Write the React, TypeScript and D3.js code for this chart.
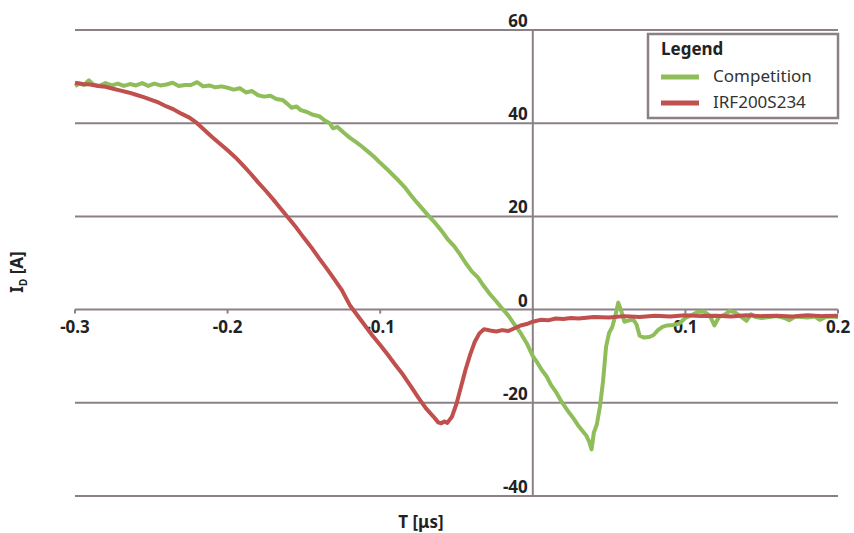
import React from 'react';
import * as d3 from 'd3';

// time in µs, current in A
const irfT = [-0.3, -0.295, -0.29, -0.285, -0.28, -0.275, -0.27, -0.265, -0.26, -0.255, -0.25, -0.245, -0.24, -0.235, -0.23, -0.225, -0.22, -0.215, -0.21, -0.205, -0.2, -0.195, -0.19, -0.185, -0.18, -0.175, -0.17, -0.165, -0.16, -0.155, -0.15, -0.145, -0.14, -0.135, -0.13, -0.125, -0.12, -0.115, -0.11, -0.105, -0.1, -0.095, -0.09, -0.085, -0.08, -0.075, -0.07, -0.065, -0.062, -0.06, -0.058, -0.056, -0.053, -0.05, -0.047, -0.044, -0.041, -0.038, -0.035, -0.032, -0.028, -0.024, -0.02, -0.016, -0.012, -0.008, -0.004, 0, 0.005, 0.01, 0.015, 0.02, 0.025, 0.03, 0.04, 0.05, 0.06, 0.07, 0.08, 0.09, 0.1, 0.11, 0.12, 0.13, 0.14, 0.15, 0.16, 0.17, 0.18, 0.19, 0.2];
const irfI = [48.7, 48.4, 48.3, 48.0, 47.8, 47.4, 47.0, 46.6, 46.1, 45.6, 45.0, 44.4, 43.6, 42.9, 42.0, 41.2, 40.0, 38.5, 37.0, 35.6, 34.2, 32.7, 31.0, 29.2, 27.3, 25.5, 23.6, 21.6, 19.6, 17.6, 15.4, 13.3, 11.0, 8.8, 6.5, 4.1, 1.0, -1.2, -3.4, -5.6, -7.6, -9.7, -11.9, -14.0, -16.4, -18.9, -21.2, -23.0, -24.2, -24.4, -24.0, -24.3, -23.0, -20.2, -16.5, -12.8, -9.6, -6.9, -5.1, -4.2, -4.5, -4.7, -4.4, -4.6, -4.0, -3.4, -3.1, -2.6, -2.2, -2.3, -1.9, -2.0, -1.8, -1.9, -1.6, -1.7, -1.4, -1.6, -1.3, -1.5, -1.2, -1.4, -1.3, -1.5, -1.2, -1.4, -1.3, -1.5, -1.2, -1.4, -1.3];

const compT = [-0.3, -0.297, -0.294, -0.291, -0.288, -0.284, -0.28, -0.276, -0.272, -0.268, -0.264, -0.26, -0.256, -0.252, -0.248, -0.244, -0.24, -0.236, -0.232, -0.228, -0.224, -0.22, -0.216, -0.212, -0.208, -0.204, -0.2, -0.196, -0.192, -0.188, -0.184, -0.18, -0.176, -0.172, -0.168, -0.164, -0.161, -0.158, -0.155, -0.152, -0.148, -0.144, -0.14, -0.136, -0.133, -0.131, -0.128, -0.124, -0.12, -0.116, -0.112, -0.108, -0.104, -0.1, -0.096, -0.092, -0.088, -0.084, -0.08, -0.076, -0.072, -0.068, -0.064, -0.06, -0.056, -0.052, -0.048, -0.044, -0.04, -0.036, -0.032, -0.028, -0.024, -0.02, -0.016, -0.012, -0.008, -0.004, 0, 0.003, 0.006, 0.009, 0.012, 0.015, 0.018, 0.021, 0.024, 0.027, 0.03, 0.033, 0.035, 0.037, 0.0385, 0.04, 0.042, 0.044, 0.046, 0.048, 0.05, 0.052, 0.054, 0.056, 0.058, 0.06, 0.063, 0.066, 0.068, 0.07, 0.073, 0.076, 0.079, 0.082, 0.085, 0.088, 0.092, 0.096, 0.1, 0.104, 0.108, 0.112, 0.116, 0.119, 0.122, 0.126, 0.129, 0.132, 0.136, 0.14, 0.143, 0.146, 0.15, 0.155, 0.16, 0.165, 0.168, 0.172, 0.176, 0.18, 0.185, 0.188, 0.192, 0.196, 0.2];
const compI = [48.0, 48.5, 48.2, 49.2, 48.3, 48.0, 48.6, 48.1, 48.5, 48.0, 48.4, 48.1, 48.6, 48.0, 48.5, 48.1, 48.3, 48.7, 48.0, 48.2, 48.2, 48.8, 47.9, 48.1, 47.7, 47.9, 47.6, 47.2, 47.5, 46.6, 46.9, 46.0, 45.7, 45.9, 45.2, 45.0, 44.2, 43.3, 43.6, 42.8, 42.4, 41.8, 41.5, 40.5, 40.0, 38.9, 39.2, 38.0, 36.9, 36.0, 35.0, 33.9, 32.8, 31.5, 30.3, 29.0, 27.7, 26.3, 24.6, 23.0, 21.5, 20.0, 18.6, 17.0, 15.2, 13.8, 12.0, 10.0, 8.2, 6.9, 5.0, 3.3, 1.8, 0.2, -1.3, -3.2, -5.0, -7.2, -10.0, -11.4, -13.0, -14.3, -16.2, -17.6, -19.3, -20.8, -22.2, -23.5, -25.0, -26.2, -27.0, -28.4, -30.0, -26.4, -24.6, -20.8, -15.5, -8.0, -5.0, -3.8, -1.4, 1.5, -0.3, -2.6, -2.3, -2.2, -3.2, -5.6, -6.0, -5.9, -5.5, -4.4, -3.7, -3.4, -3.3, -3.0, -1.8, -1.2, -0.5, -0.4, -1.3, -3.4, -1.6, -1.0, -0.3, -0.5, -1.4, -2.4, -1.0, -1.6, -1.8, -1.6, -1.4, -1.8, -2.3, -1.5, -1.6, -1.7, -1.5, -2.2, -1.6, -1.5, -1.6];

const xTicks = [-0.3, -0.2, -0.1, 0, 0.1, 0.2];
const yTicks = [60, 40, 20, 0, -20, -40];

const seriesNames = ['Competition', 'IRF200S234'];
const seriesColors = ['#8fbd5a', '#c0504d'];

const W = 854;
const H = 533;
const gridColor = '#8c8087';
const font = '"Source Sans Pro", "Noto Sans", sans-serif';

// plain hyphen for negatives, like the original
const fmtX = (t: number) => d3.format('.1f')(t).replace('\u2212', '-');

export default function App() {
  const x = d3.scaleLinear().domain([-0.3, 0.2]).range([75, 838]);
  const y = d3.scaleLinear().domain([-40, 60]).range([496, 30]);

  const line = d3
    .line<[number, number]>()
    .x((d) => x(d[0]))
    .y((d) => y(d[1]));

  const comp: [number, number][] = compT.map((t, i) => [t, compI[i]]);
  const irf: [number, number][] = irfT.map((t, i) => [t, irfI[i]]);

  return (
    <svg
      width={W}
      height={H}
      style={{ position: 'absolute', left: 0, top: 0, background: '#fff' }}
      fontFamily={font}
    >
      {/* horizontal grid */}
      {yTicks.map((v) => (
        <line key={'g' + v} x1={75} x2={838} y1={y(v)} y2={y(v)} stroke={gridColor} strokeWidth={2} />
      ))}
      {/* vertical axis at t = 0 */}
      <line x1={x(0)} x2={x(0)} y1={y(60)} y2={y(-40)} stroke={gridColor} strokeWidth={2} />

      {/* x ticks */}
      {xTicks.map((t) => (
        <g key={'x' + t}>
          <line x1={x(t)} x2={x(t)} y1={y(0)} y2={y(0) + 4} stroke={gridColor} strokeWidth={2} />
          {t !== 0 && (
            <text x={x(t)} y={333} textAnchor="middle" fontSize={17} fontWeight="bold" fill="#222">
              {fmtX(t)}
            </text>
          )}
        </g>
      ))}

      {/* y tick labels */}
      {yTicks.map((v) => (
        <text key={'y' + v} x={x(0) - 5} y={y(v) - 3} textAnchor="end" fontSize={17} fontWeight="bold" fill="#222">
          {v}
        </text>
      ))}

      {/* traces */}
      <path d={line(comp) ?? ''} fill="none" stroke={seriesColors[0]} strokeWidth={4} strokeLinejoin="round" />
      <path d={line(irf) ?? ''} fill="none" stroke={seriesColors[1]} strokeWidth={4} strokeLinejoin="round" />

      {/* axis titles */}
      <text x={421} y={528} textAnchor="middle" fontSize={17} fontWeight="bold" fill="#222">
        T [μs]
      </text>
      <text transform="translate(23,272) rotate(-90)" textAnchor="middle" fontSize={17} fontWeight="bold" fill="#222">
        I<tspan fontSize={10} dy={4}>D</tspan>
        <tspan dy={-4}> [A]</tspan>
      </text>

      {/* legend */}
      <rect x={648} y={34} width={190} height={84} fill="#fff" stroke={gridColor} strokeWidth={2.5} />
      <text x={661} y={55} fontSize={17} fontWeight="bold" fill="#222">
        Legend
      </text>
      {seriesNames.map((name, i) => (
        <g key={name}>
          <line x1={661} x2={699} y1={77 + i * 26} y2={77 + i * 26} stroke={seriesColors[i]} strokeWidth={5} />
          <text x={713} y={82 + i * 26} fontSize={17} fill="#333">
            {name}
          </text>
        </g>
      ))}
    </svg>
  );
}
